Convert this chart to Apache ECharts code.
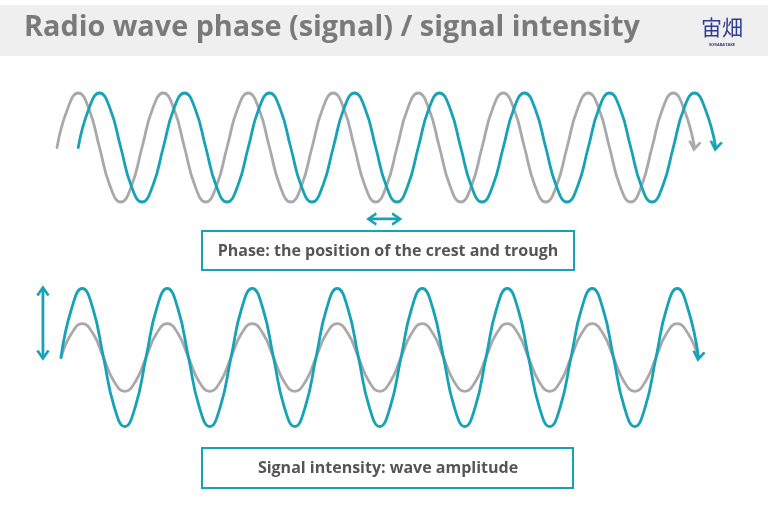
<!DOCTYPE html>
<html>
<head>
<meta charset="utf-8">
<title>Radio wave phase / signal intensity</title>
<script src="https://cdn.jsdelivr.net/npm/echarts@6/dist/echarts.min.js"></script>
<style>
  html, body { margin: 0; padding: 0; background: #ffffff; }
  #chart { width: 768px; height: 518px; }
</style>
</head>
<body>
<div id="chart"></div>
<script>
// Time is measured in quarter wavelengths, amplitude in units of the peak height.
// Points are read every eighth of a wavelength along each curve.

// Top panel: reference wave (grey) and the same wave shifted by a quarter period (teal)
const phaseRefTimes = [
    0, 0.5, 1, 1.5, 2, 2.5, 3, 3.5, 4, 4.5, 5, 5.5, 6, 6.5, 7, 7.5,
    8, 8.5, 9, 9.5, 10, 10.5, 11, 11.5, 12, 12.5, 13, 13.5, 14, 14.5, 15, 15.5,
    16, 16.5, 17, 17.5, 18, 18.5, 19, 19.5, 20, 20.5, 21, 21.5, 22, 22.5, 23, 23.5,
    24, 24.5, 25, 25.5, 26, 26.5, 27, 27.5, 28, 28.5, 29, 29.5, 30
];
const phaseRefValues = [
    0, 0.71, 1, 0.71, 0, -0.71, -1, -0.71, 0, 0.71, 1, 0.71, 0, -0.71, -1, -0.71,
    0, 0.71, 1, 0.71, 0, -0.71, -1, -0.71, 0, 0.71, 1, 0.71, 0, -0.71, -1, -0.71,
    0, 0.71, 1, 0.71, 0, -0.71, -1, -0.71, 0, 0.71, 1, 0.71, 0, -0.71, -1, -0.71,
    0, 0.71, 1, 0.71, 0, -0.71, -1, -0.71, 0, 0.71, 1, 0.71, 0
];
const phaseShiftTimes = [
    1, 1.5, 2, 2.5, 3, 3.5, 4, 4.5, 5, 5.5, 6, 6.5, 7, 7.5, 8, 8.5,
    9, 9.5, 10, 10.5, 11, 11.5, 12, 12.5, 13, 13.5, 14, 14.5, 15, 15.5, 16, 16.5,
    17, 17.5, 18, 18.5, 19, 19.5, 20, 20.5, 21, 21.5, 22, 22.5, 23, 23.5, 24, 24.5,
    25, 25.5, 26, 26.5, 27, 27.5, 28, 28.5, 29, 29.5, 30, 30.5, 31
];
const phaseShiftValues = [
    0, 0.71, 1, 0.71, 0, -0.71, -1, -0.71, 0, 0.71, 1, 0.71, 0, -0.71, -1, -0.71,
    0, 0.71, 1, 0.71, 0, -0.71, -1, -0.71, 0, 0.71, 1, 0.71, 0, -0.71, -1, -0.71,
    0, 0.71, 1, 0.71, 0, -0.71, -1, -0.71, 0, 0.71, 1, 0.71, 0, -0.71, -1, -0.71,
    0, 0.71, 1, 0.71, 0, -0.71, -1, -0.71, 0, 0.71, 1, 0.71, 0
];
// phase marker (double arrow under the waves)
const phaseMarkerTimes = [14.7, 16.1];
const phaseMarkerLevel = -1.31;

// Bottom panel: strong signal (teal) and weak signal (grey), same phase
const ampTimes = [
    0, 0.5, 1, 1.5, 2, 2.5, 3, 3.5, 4, 4.5, 5, 5.5, 6, 6.5, 7, 7.5,
    8, 8.5, 9, 9.5, 10, 10.5, 11, 11.5, 12, 12.5, 13, 13.5, 14, 14.5, 15, 15.5,
    16, 16.5, 17, 17.5, 18, 18.5, 19, 19.5, 20, 20.5, 21, 21.5, 22, 22.5, 23, 23.5,
    24, 24.5, 25, 25.5, 26, 26.5, 27, 27.5, 28, 28.5, 29, 29.5, 30
];
const ampStrongValues = [
    0, 0.71, 1, 0.71, 0, -0.71, -1, -0.71, 0, 0.71, 1, 0.71, 0, -0.71, -1, -0.71,
    0, 0.71, 1, 0.71, 0, -0.71, -1, -0.71, 0, 0.71, 1, 0.71, 0, -0.71, -1, -0.71,
    0, 0.71, 1, 0.71, 0, -0.71, -1, -0.71, 0, 0.71, 1, 0.71, 0, -0.71, -1, -0.71,
    0, 0.71, 1, 0.71, 0, -0.71, -1, -0.71, 0, 0.71, 1, 0.71, 0
];
const ampWeakValues = [
    0, 0.35, 0.49, 0.35, 0, -0.35, -0.49, -0.35, 0, 0.35, 0.49, 0.35, 0, -0.35, -0.49, -0.35,
    0, 0.35, 0.49, 0.35, 0, -0.35, -0.49, -0.35, 0, 0.35, 0.49, 0.35, 0, -0.35, -0.49, -0.35,
    0, 0.35, 0.49, 0.35, 0, -0.35, -0.49, -0.35, 0, 0.35, 0.49, 0.35, 0, -0.35, -0.49, -0.35,
    0, 0.35, 0.49, 0.35, 0, -0.35, -0.49, -0.35, 0, 0.35, 0.49, 0.35, 0
];
// amplitude marker (vertical double arrow at the left)
const ampMarkerTime   = -0.85;
const ampMarkerValues = [0, 1];

const titleText  = 'Radio wave phase (signal) / signal intensity';
const phaseLabel = 'Phase: the position of the crest and trough';
const ampLabel   = 'Signal intensity: wave amplitude';

const TEAL = '#17a2b5';
const GREY = '#a9a9a9';
const FONT = '"Open Sans"';
// open chevron pointing down, tip at the bottom centre
const CHEVRON = 'path://M0,0L6,7L12,0';

function arrowItem(value, color, rotate, offset) {
    return {
        value: value,
        symbol: CHEVRON,
        symbolSize: [11, 8],
        symbolRotate: rotate,
        symbolOffset: offset,
        itemStyle: { color: 'rgba(0,0,0,0)', borderColor: color, borderWidth: 2.4 }
    };
}

// wave data, optionally with an arrow head on the last point
function waveData(times, values, arrowColor) {
    return times.map((t, i) => {
        const v = [t, values[i]];
        if (arrowColor && i === times.length - 1) {
            return arrowItem(v, arrowColor, -8, [0, -2]);
        }
        return v;
    });
}

function waveSeries(gridIndex, data, color, z) {
    return {
        type: 'line',
        xAxisIndex: gridIndex,
        yAxisIndex: gridIndex,
        data: data,
        smooth: 0.5,
        symbol: 'none',
        showSymbol: true,
        z: z,
        lineStyle: { color: color, width: 2.8, cap: 'round' },
        emphasis: { disabled: true },
        silent: true
    };
}

const chart = echarts.init(document.getElementById('chart'), null, { renderer: 'canvas' });

const hiddenAxis = { show: false, splitLine: { show: false } };

const option = {
    animation: false,
    backgroundColor: '#ffffff',
    grid: [
        { left: 14.5, width: 722.5, top: 65.75, height: 163.5 },
        { left: 18.5, width: 722.5, top: 254, height: 207 }
    ],
    xAxis: [
        Object.assign({ type: 'value', gridIndex: 0, min: -2, max: 32 }, hiddenAxis),
        Object.assign({ type: 'value', gridIndex: 1, min: -2, max: 32 }, hiddenAxis)
    ],
    yAxis: [
        Object.assign({ type: 'value', gridIndex: 0, min: -1.5, max: 1.5 }, hiddenAxis),
        Object.assign({ type: 'value', gridIndex: 1, min: -1.5, max: 1.5 }, hiddenAxis)
    ],
    series: [
        waveSeries(0, waveData(phaseRefTimes, phaseRefValues, GREY), GREY, 2),
        waveSeries(0, waveData(phaseShiftTimes, phaseShiftValues, TEAL), TEAL, 3),
        Object.assign(waveSeries(0, [
            arrowItem([phaseMarkerTimes[0], phaseMarkerLevel], TEAL, -90, [3, 0]),
            arrowItem([phaseMarkerTimes[1], phaseMarkerLevel], TEAL, 90, [-3, 0])
        ], TEAL, 3), { smooth: false }),
        waveSeries(1, waveData(ampTimes, ampWeakValues, null), GREY, 2),
        waveSeries(1, waveData(ampTimes, ampStrongValues, TEAL), TEAL, 3),
        Object.assign(waveSeries(1, [
            arrowItem([ampMarkerTime, ampMarkerValues[0]], TEAL, 0, [0, -3]),
            arrowItem([ampMarkerTime, ampMarkerValues[1]], TEAL, 180, [0, 3])
        ], TEAL, 3), { smooth: false })
    ],
    graphic: [
        { type: 'rect', z: 0, shape: { x: 0, y: 5, width: 768, height: 51 }, style: { fill: '#efefef' } },
        { type: 'text', z: 1, x: 24, y: 28, style: {
            text: titleText, fill: '#7a7a7a', font: 'bold 28.8px ' + FONT,
            textAlign: 'left', textVerticalAlign: 'middle' } },
        { type: 'text', z: 1, x: 722, y: 27, style: {
            text: '宙畑', fill: '#2f3d8e', font: '21px "Noto Sans CJK JP"',
            textAlign: 'center', textVerticalAlign: 'middle' } },
        { type: 'text', z: 1, x: 722, y: 45, style: {
            text: 'SORABATAKE', fill: '#2f3d8e', font: 'bold 4px ' + FONT,
            textAlign: 'center', textVerticalAlign: 'middle' } },

        { type: 'rect', z: 1, shape: { x: 202, y: 231, width: 372, height: 39 },
          style: { fill: '#ffffff', stroke: TEAL, lineWidth: 2 } },
        { type: 'text', z: 2, x: 388, y: 251.5, style: {
            text: phaseLabel, fill: '#555555', font: 'bold 16px ' + FONT,
            textAlign: 'center', textVerticalAlign: 'middle' } },

        { type: 'rect', z: 1, shape: { x: 202, y: 448, width: 371, height: 40 },
          style: { fill: '#ffffff', stroke: TEAL, lineWidth: 2 } },
        { type: 'text', z: 2, x: 388, y: 468.5, style: {
            text: ampLabel, fill: '#555555', font: 'bold 16px ' + FONT,
            textAlign: 'center', textVerticalAlign: 'middle' } }
    ]
};

chart.setOption(option);
window.addEventListener('resize', () => chart.resize());
</script>
</body>
</html>
